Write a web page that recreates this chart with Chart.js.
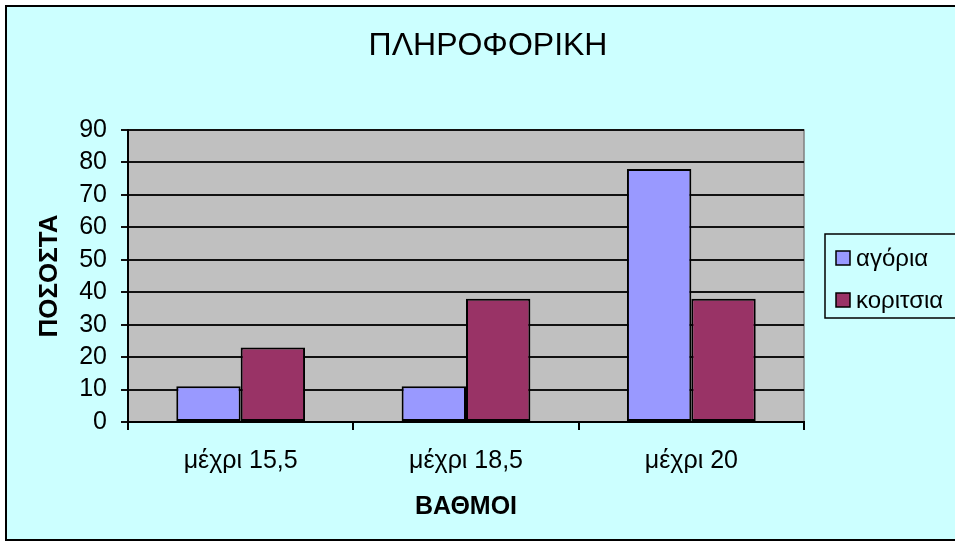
<!DOCTYPE html>
<html>
<head>
<meta charset="utf-8">
<title>ΠΛΗΡΟΦΟΡΙΚΗ</title>
<script src="https://cdn.jsdelivr.net/npm/chart.js@4/dist/chart.umd.min.js"></script>
<style>
    html, body { margin: 0; padding: 0; background: #ffffff; overflow: hidden; }
    #grafico { display: block; }
</style>
</head>
<body>
<canvas id="grafico" width="955" height="546"></canvas>
<script>
// datos del gráfico
const titulo = 'ΠΛΗΡΟΦΟΡΙΚΗ';
const categorias = ['μέχρι 15,5', 'μέχρι 18,5', 'μέχρι 20'];
const agoria = [11, 11, 78];
const koritsia = [23, 38, 38];
const nombresSeries = ['αγόρια', 'κοριτσια'];

const FUENTE = "'Liberation Sans', Arial, sans-serif";

// fondo, marco, área gris, título y leyenda
const decorado = {
    id: 'decorado',
    beforeDraw(chart) {
        const ctx = chart.ctx;
        const a = chart.chartArea;
        ctx.save();
        ctx.fillStyle = '#ffffff';
        ctx.fillRect(0, 0, 955, 546);
        ctx.fillStyle = '#ccffff';
        ctx.fillRect(6, 6, 1000, 534);
        ctx.strokeStyle = '#000000';
        ctx.lineWidth = 2;
        ctx.strokeRect(6, 6, 1000, 534);

        ctx.fillStyle = '#c0c0c0';
        ctx.fillRect(a.left, a.top, a.right - a.left, a.bottom - a.top);
        ctx.strokeStyle = '#808080';
        ctx.lineWidth = 1.5;
        ctx.beginPath();
        ctx.moveTo(a.left, a.top);
        ctx.lineTo(a.right, a.top);
        ctx.lineTo(a.right, a.bottom);
        ctx.stroke();
        ctx.restore();
    },
    afterDraw(chart) {
        const ctx = chart.ctx;
        ctx.save();
        ctx.fillStyle = '#000000';
        ctx.font = '32px ' + FUENTE;
        ctx.textAlign = 'center';
        ctx.textBaseline = 'middle';
        ctx.fillText(titulo, 488, 46);

        // leyenda
        ctx.strokeStyle = '#000000';
        ctx.lineWidth = 1.5;
        ctx.strokeRect(825, 234, 200, 84);
        ctx.font = '24px ' + FUENTE;
        ctx.textAlign = 'left';
        chart.data.datasets.forEach(function(ds, i) {
            const y = 258 + i * 42;
            ctx.fillStyle = ds.backgroundColor;
            ctx.fillRect(836, y - 7, 14, 14);
            ctx.strokeStyle = '#000000';
            ctx.lineWidth = 1.5;
            ctx.strokeRect(836, y - 7, 14, 14);
            ctx.fillStyle = '#000000';
            ctx.fillText(ds.label, 856, y + 1);
        });
        ctx.restore();
    }
};

new Chart(document.getElementById('grafico').getContext('2d'), {
    type: 'bar',
    data: {
        labels: categorias,
        datasets: [{
            label: nombresSeries[0],
            data: agoria,
            backgroundColor: '#9999ff',
            borderColor: '#000000',
            borderWidth: 2,
            borderSkipped: false
        }, {
            label: nombresSeries[1],
            data: koritsia,
            backgroundColor: '#993366',
            borderColor: '#000000',
            borderWidth: 2,
            borderSkipped: false
        }]
    },
    options: {
        responsive: false,
        animation: false,
        layout: { padding: { left: 0, top: 130, right: 151, bottom: 0 } },
        datasets: { bar: { categoryPercentage: 0.5714, barPercentage: 1 } },
        plugins: {
            legend: { display: false },
            title: { display: false },
            tooltip: { enabled: false }
        },
        scales: {
            x: {
                afterFit: function(scale) { scale.height = 124; },
                grid: {
                    offset: true,
                    drawOnChartArea: false,
                    color: '#000000',
                    lineWidth: 2,
                    tickLength: 8
                },
                border: { color: '#000000', width: 2 },
                ticks: {
                    color: '#000000',
                    padding: 16,
                    font: { family: FUENTE, size: 25 }
                },
                title: {
                    display: true,
                    text: 'ΒΑΘΜΟΙ',
                    color: '#000000',
                    padding: { top: 0, bottom: 24 },
                    font: { family: FUENTE, size: 25, weight: 'bold' }
                }
            },
            y: {
                min: 0,
                max: 90,
                afterFit: function(scale) { scale.width = 128; },
                grid: {
                    color: '#111111',
                    lineWidth: 2,
                    tickLength: 7
                },
                border: { color: '#000000', width: 2 },
                ticks: {
                    stepSize: 10,
                    autoSkip: false,
                    color: '#000000',
                    padding: 14,
                    font: { family: FUENTE, size: 25 }
                },
                title: {
                    display: true,
                    text: 'ΠΟΣΟΣΤΑ',
                    color: '#000000',
                    padding: { top: 34, bottom: 0 },
                    font: { family: FUENTE, size: 26, weight: 'bold' }
                }
            }
        }
    },
    plugins: [decorado]
});
</script>
</body>
</html>
